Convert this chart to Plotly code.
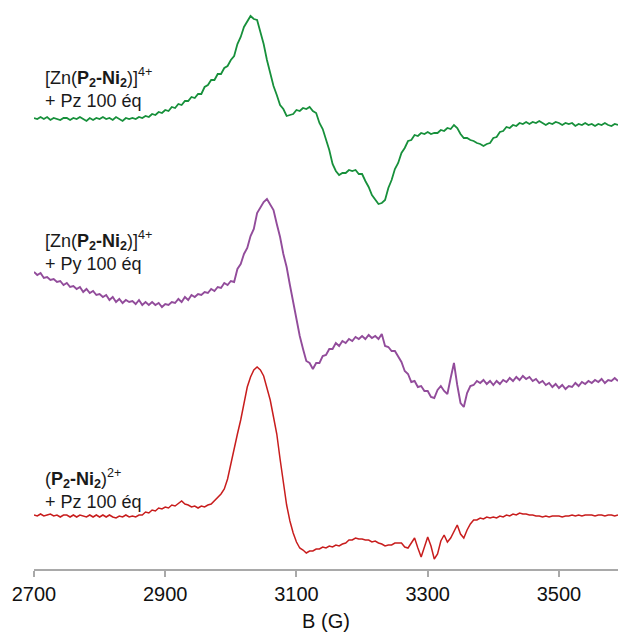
import plotly.graph_objects as go

# Magnetic field sweep (G), 5 G steps
FIELD_G = list(range(2700, 3591, 5))

# Stacked spectra (arbitrary units, already offset as in the figure)
ZN_PZ = [
    451, 450, 452, 450, 452, 449, 451, 450, 449, 451,
    451, 449, 451, 450, 452, 450, 448, 451, 449, 451,
    450, 452, 450, 451, 449, 452, 450, 448, 451, 450,
    451, 450, 452, 451, 453, 452, 455, 454, 457, 456,
    459, 458, 462, 461, 465, 464, 468, 468, 472, 471,
    475, 475, 482, 484, 489, 489, 495, 495, 501, 503,
    509, 513, 525, 532, 542, 547, 553, 550, 549, 537,
    525, 509, 497, 483, 474, 464, 460, 453, 454, 455,
    459, 458, 461, 460, 462, 458, 456, 446, 440, 429,
    419, 405, 398, 394, 396, 396, 399, 398, 399, 395,
    395, 388, 382, 374, 370, 365, 366, 369, 381, 389,
    400, 406, 416, 421, 428, 429, 434, 433, 436, 435,
    437, 435, 436, 436, 439, 438, 441, 440, 444, 441,
    435, 431, 431, 429, 428, 426, 425, 423, 425, 426,
    431, 432, 437, 438, 442, 441, 444, 443, 446, 445,
    447, 445, 447, 446, 448, 446, 444, 446, 445, 447,
    446, 444, 446, 445, 446, 443, 445, 444, 446, 444,
    445, 443, 445, 444, 446, 444, 443, 445, 444,
]

ZN_PY = [
    297, 294, 296, 291, 292, 289, 290, 287, 288, 284,
    286, 282, 283, 280, 282, 277, 280, 276, 278, 274,
    275, 272, 274, 269, 272, 267, 270, 266, 269, 267,
    268, 265, 269, 264, 267, 264, 267, 264, 266, 262,
    265, 264, 267, 266, 270, 267, 272, 269, 274, 272,
    275, 274, 277, 276, 280, 278, 282, 281, 286, 284,
    288, 287, 300, 305, 315, 321, 333, 340, 356, 362,
    367, 370, 364, 359, 345, 332, 315, 302, 284, 267,
    250, 233, 220, 208, 206, 200, 206, 206, 213, 214,
    220, 220, 226, 223, 228, 226, 230, 228, 232, 230,
    233, 230, 234, 231, 233, 230, 235, 223, 222, 218,
    218, 212, 207, 198, 195, 187, 188, 182, 183, 178,
    178, 172, 171, 179, 183, 178, 175, 191, 206, 184,
    166, 162, 176, 183, 184, 188, 186, 189, 185, 188,
    184, 188, 185, 189, 187, 191, 188, 192, 189, 193,
    190, 192, 188, 190, 186, 188, 184, 186, 182, 185,
    181, 184, 180, 183, 182, 186, 183, 187, 185, 188,
    186, 189, 187, 190, 186, 189, 188, 191, 188,
]

NI_PZ = [
    54, 53, 55, 53, 54, 55, 53, 54, 52, 54,
    54, 52, 54, 52, 54, 53, 52, 54, 52, 54,
    52, 54, 52, 54, 52, 51, 53, 52, 54, 52,
    53, 52, 54, 54, 57, 56, 59, 58, 61, 60,
    62, 61, 64, 63, 66, 68, 65, 64, 62, 63,
    61, 63, 62, 64, 65, 68, 71, 75, 80, 90,
    105, 121, 135, 149, 165, 182, 192, 199, 202, 199,
    193, 182, 169, 152, 135, 110, 86, 64, 48, 36,
    27, 21, 19, 16, 18, 18, 20, 20, 22, 21,
    23, 22, 24, 23, 25, 26, 29, 29, 31, 30,
    30, 29, 29, 27, 28, 26, 25, 23, 24, 24,
    26, 26, 26, 22, 21, 26, 31, 21, 12, 22,
    32, 23, 10, 15, 28, 34, 27, 31, 38, 44,
    35, 31, 39, 45, 49, 49, 51, 50, 52, 51,
    52, 51, 53, 52, 54, 53, 55, 54, 56, 55,
    55, 54, 54, 53, 53, 52, 53, 52, 53, 53,
    53, 52, 53, 53, 54, 53, 54, 53, 54, 54,
    54, 53, 54, 54, 53, 54, 54, 53, 54,
]

SERIES_LABELS = [
    "[Zn(<b>P<sub>2</sub>-Ni<sub>2</sub></b>)]<sup>4+</sup><br>+ Pz 100 éq",
    "[Zn(<b>P<sub>2</sub>-Ni<sub>2</sub></b>)]<sup>4+</sup><br>+ Py 100 éq",
    "(<b>P<sub>2</sub>-Ni<sub>2</sub></b>)<sup>2+</sup><br>+ Pz 100 éq",
]
LABEL_POS_Y = [481, 318, 80]
LABEL_POS_X = 2713

TICKS = [2700, 2900, 3100, 3300, 3500]

COLORS = ["#17903b", "#924c9b", "#c81d1d"]
WIDTHS = [1.8, 1.9, 1.5]

fig = go.Figure()
for ys, col, w in zip([ZN_PZ, ZN_PY, NI_PZ], COLORS, WIDTHS):
    fig.add_trace(go.Scatter(x=FIELD_G, y=ys, mode="lines",
                             line=dict(color=col, width=w),
                             showlegend=False, hoverinfo="skip"))

for lab, yy in zip(SERIES_LABELS, LABEL_POS_Y):
    fig.add_annotation(x=LABEL_POS_X, y=yy, xref="x", yref="y", text=lab,
                       showarrow=False, xanchor="left", yanchor="middle",
                       align="left",
                       font=dict(family="Liberation Sans, Arial", size=18, color="#1a1a1a"))

fig.update_layout(
    width=618, height=634,
    margin=dict(l=34, r=0, t=0, b=65, autoexpand=False),
    paper_bgcolor="white", plot_bgcolor="white",
    font=dict(family="Liberation Sans, Arial", size=20, color="#111111"),
    xaxis=dict(range=[2700, 3590], tickvals=TICKS, ticktext=[str(t) for t in TICKS],
               showline=True, linecolor="#a9a9a9", linewidth=1.5,
               ticks="outside", ticklen=6, tickwidth=1.5, tickcolor="#a9a9a9",
               showgrid=False, zeroline=False, automargin=False,
               tickfont=dict(size=20, color="#111111"),
               title=dict(text="B (G)", font=dict(size=20, color="#111111"), standoff=10)),
    yaxis=dict(range=[0, 569], visible=False, showgrid=False, zeroline=False),
)

fig.write_html("out.html", config={"displayModeBar": False},
               post_script="document.body.style.margin='0';")
